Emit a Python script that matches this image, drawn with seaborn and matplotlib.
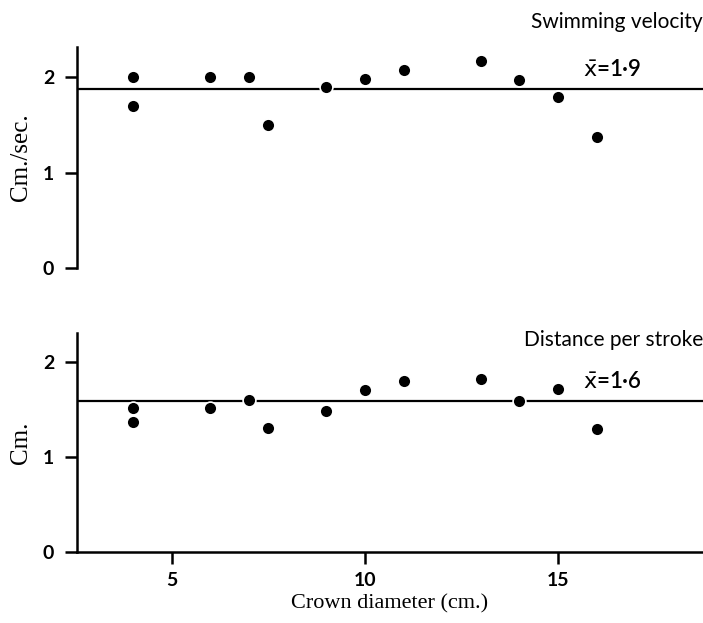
import numpy as np
import pandas as pd
import seaborn as sns
import matplotlib.pyplot as plt

# --- data ---
diam_vel = [4, 4, 6, 7, 7.5, 9, 10, 11, 13, 14, 15, 16]
velocity = [2.0, 1.7, 2.0, 2.0, 1.5, 1.9, 1.98, 2.08, 2.17, 1.97, 1.79, 1.37]
mean_vel = 1.88

diam_dist = [4, 4, 6, 7, 7.5, 9, 10, 11, 13, 14, 15, 16]
distance = [1.51, 1.37, 1.51, 1.6, 1.3, 1.48, 1.7, 1.8, 1.82, 1.59, 1.71, 1.29]
mean_dist = 1.59

x_ticks = [5, 10, 15]
y_ticks = [0, 1, 2]

sns.set_style('ticks')
plt.rcParams.update({
    'font.family': ['Lato', 'DejaVu Sans'],
    'axes.linewidth': 1.8, 'axes.edgecolor': 'black',
    'xtick.color': 'black', 'ytick.color': 'black',
    'xtick.major.width': 1.8, 'ytick.major.width': 1.8,
    'xtick.major.size': 8.5, 'ytick.major.size': 8.5,
    'xtick.direction': 'out', 'ytick.direction': 'out',
    'text.color': 'black', 'axes.labelcolor': 'black',
})

fig = plt.figure(figsize=(7.03, 6.23), dpi=100)
ax1 = fig.add_axes([0.1095, 0.5698, 0.8905, 0.3548])
ax2 = fig.add_axes([0.1095, 0.1140, 0.8905, 0.3515])

df_v = pd.DataFrame({'d': diam_vel, 'v': velocity})
df_s = pd.DataFrame({'d': diam_dist, 'v': distance})

for ax, df, m, ymax in [(ax1, df_v, mean_vel, 2.32), (ax2, df_s, mean_dist, 2.3)]:
    ax.axhline(m, color='black', lw=1.6, zorder=1)
    sns.scatterplot(data=df, x='d', y='v', ax=ax, color='black', s=85,
                    edgecolor='white', linewidth=1.2, zorder=3)
    ax.set_xlim(2.55, 18.75)
    ax.set_ylim(0, ymax)
    ax.set_yticks(y_ticks)
    ax.set_yticklabels([str(t) for t in y_ticks], fontsize=14, fontweight='bold')
    ax.tick_params(axis='y', pad=8)
    for s in ['top', 'right']:
        ax.spines[s].set_visible(False)
    ax.set_xlabel('')

# top panel: no x axis
ax1.spines['bottom'].set_visible(False)
ax1.set_xticks([])
ax1.set_ylabel('Cm./sec.', family='Liberation Serif', fontsize=18, labelpad=8)

ax2.set_xticks(x_ticks)
ax2.set_xticklabels([str(t) for t in x_ticks], fontsize=14, fontweight='bold')
ax2.tick_params(axis='x', pad=6)
ax2.set_ylabel('Cm.', family='Liberation Serif', fontsize=18, labelpad=8)
ax2.set_xlabel('Crown diameter (cm.)', family='Liberation Serif', fontsize=16, labelpad=4)

ax1.text(1.0, 2.58, 'Swimming velocity', transform=ax1.get_yaxis_transform(),
         ha='right', va='center', fontsize=15, clip_on=False)
ax1.text(15.65, 2.08, r'$\bar{\mathrm{x}}$=1·9', ha='left', va='center',
         fontsize=16, fontweight='semibold')

ax2.text(1.0, 2.23, 'Distance per stroke', transform=ax2.get_yaxis_transform(),
         ha='right', va='center', fontsize=15, clip_on=False)
ax2.text(15.65, 1.79, r'$\bar{\mathrm{x}}$=1·6', ha='left', va='center',
         fontsize=16, fontweight='semibold')

fig.savefig('out.png', dpi=100)
